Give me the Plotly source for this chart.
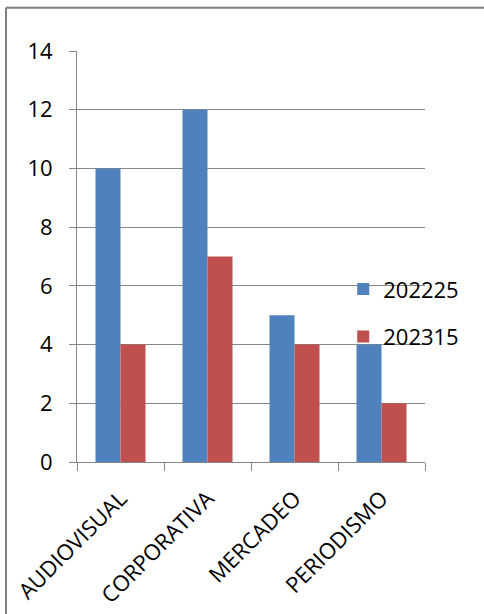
import plotly.graph_objects as go

categories = ["AUDIOVISUAL", "CORPORATIVA", "MERCADEO", "PERIODISMO"]
series_names = ["202225", "202315"]
values_202225 = [10, 12, 5, 4]
values_202315 = [4, 7, 4, 2]
y_ticks = [0, 2, 4, 6, 8, 10, 12, 14]

FONT = "Open Sans"
fig = go.Figure()
fig.add_trace(go.Bar(x=categories, y=values_202225, name=series_names[0],
                     marker=dict(color="#4F81BD", line=dict(width=0)),
                     legendgroup="a"))
fig.add_trace(go.Bar(x=categories, y=values_202315, name=series_names[1],
                     marker=dict(color="#C0504D", line=dict(width=0)),
                     legendgroup="b"))

fig.update_layout(
    width=484, height=614,
    margin=dict(l=77, r=59, t=51, b=152, autoexpand=False),
    paper_bgcolor="white", plot_bgcolor="white",
    barmode="group", bargap=0.425, bargroupgap=0,
    font=dict(family=FONT, size=22, color="black"),
    showlegend=True,
    legend=dict(x=0.765, y=0.362, xanchor="left", yanchor="middle",
                bgcolor="rgba(0,0,0,0)", tracegroupgap=16,
                font=dict(family=FONT, size=22), itemwidth=30),
    xaxis=dict(type="category", showline=True, linecolor="#868686", linewidth=1,
               ticks="outside", ticklen=8, tickcolor="#868686",
               tickson="boundaries", tickangle=-45, showgrid=False,
               ticklabelstandoff=14, automargin=False,
               tickfont=dict(family=FONT, size=22)),
    yaxis=dict(range=[0, 14], tickvals=y_ticks, showgrid=True, gridcolor="#868686",
               gridwidth=1, showline=True, linecolor="#868686", linewidth=1,
               ticks="outside", ticklen=7, tickcolor="#868686", zeroline=False,
               ticklabelstandoff=12, automargin=False,
               tickfont=dict(family=FONT, size=22)),
)

# outer chart frame (only left and top visible in the crop)
fig.add_shape(type="line", xref="paper", yref="paper", x0=-0.204, x1=-0.204,
              y0=-0.5, y1=1.105, line=dict(color="#7F7F7F", width=2))
fig.add_shape(type="line", xref="paper", yref="paper", x0=-0.204, x1=1.17,
              y0=1.105, y1=1.105, line=dict(color="#7F7F7F", width=2))

fig.write_html("out.html", config={"displayModeBar": False},
               post_script="document.body.style.margin='0';document.body.style.overflow='hidden';")
